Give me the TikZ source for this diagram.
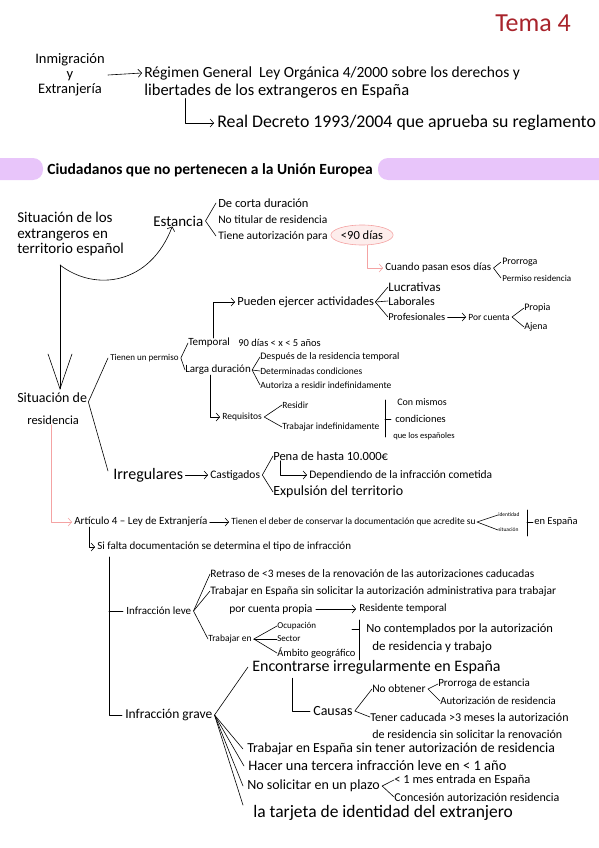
\documentclass[tikz,border=0pt]{standalone}
\usepackage{fontspec}
\setmainfont{Carlito}
\usetikzlibrary{arrows.meta,shapes.geometric}
\definecolor{temared}{HTML}{A8232B}
\definecolor{lavanda}{HTML}{E8C5FA}
\definecolor{rosa}{HTML}{F4A3A3}
\definecolor{rosafondo}{HTML}{FDEDEC}
\tikzset{%
  hw/.style={font=\fontsize{#1}{#1}\selectfont, inner sep=0pt, anchor=west},
  arr/.style={-{Straight Barb[length=3.5pt,width=8pt]}},
  parr/.style={arr, draw=rosa},
  bigarr/.style={-{Straight Barb[length=35pt,width=24pt]}},
}

\begin{document}
\begin{tikzpicture}[x=1pt, y=-1pt, line width=0.6pt, line cap=round, line join=round]
    \useasboundingbox (0,0) rectangle (599,848);

    % cabecera
    \node[hw=26, text=temared] (tema) at (495,23) {Tema 4};
    \node[font=\fontsize{14.5}{15}\selectfont, align=center, inner sep=0pt] (inmig) at (70,75) {Inmigración\\y\\Extranjería};
    \node[hw=15.5] (reg1) at (144,73) {Régimen General\ \ Ley Orgánica 4/2000 sobre los derechos y};
    \node[hw=16.5] (reg2) at (144,91) {libertades de los extrangeros en España};
    \node[hw=17.8] (decreto) at (217,123) {Real Decreto 1993/2004 que aprueba su reglamento};
    \draw[arr] ([xshift=3pt]inmig.east) -- ([xshift=-2pt]reg1.west);
    \draw[arr] ([xshift=41pt]reg2.south west) |- ([xshift=-3pt]decreto.west);

    % barra del titulo
    \fill[lavanda, rounded corners=10pt] (-20,158) rectangle (43,180);
    \fill[lavanda, rounded corners=10pt] (378,158) rectangle (620,180);
    \node[hw=15.5] (titulo) at (47,170) {\bfseries Ciudadanos que no pertenecen a la Unión Europea};

    % estancia
    \node[font=\fontsize{15}{15.5}\selectfont, align=left, inner sep=0pt, anchor=north west] (sit) at (17,212) {Situación de los\\extrangeros en\\territorio español};
    \node[hw=15] (estancia) at (153,221) {Estancia};
    \node[hw=12.5] (corta) at (218,203) {De corta duración};
    \node[hw=11.5] (titular) at (218,220) {No titular de residencia};
    \node[hw=11.5] (tiene) at (218,236) {Tiene autorización para};
    \node[ellipse, draw=rosa, fill=rosafondo, font=\fontsize{12.5}{12.5}\selectfont, inner sep=1pt,
          minimum width=51pt, minimum height=20pt] (dias) at (362,235) {<90 días};
    \draw ([xshift=-2pt]corta.west) -- ([xshift=2pt]estancia.east) -- ([xshift=-2pt]tiene.west);

    \node[hw=11] (cuando) at (385,268) {Cuando pasan esos días};
    \draw[parr] ([xshift=5pt]dias.south) |- ([xshift=-2pt]cuando.west);
    \node[hw=10] (prorroga) at (502,262) {Prorroga};
    \node[hw=9] (permiso) at (502,278) {Permiso residencia};
    \draw ([xshift=-1pt]prorroga.west) -- ([xshift=2pt]cuando.east) -- ([xshift=-1pt]permiso.west);

    % residencia
    \node[hw=14] (sitres) at (17,398) {Situación de};
    \node[hw=12.5] (resid) at (27,420) {residencia};
    \coordinate (c1) at (60,265);
    \draw[arr] (c1) .. controls (95,292) and (150,285) .. ([xshift=-6pt]estancia.south);
    \draw[bigarr] (c1) -- ([yshift=3pt]c1 |- sitres.north);

    \node[hw=12.5] (pueden) at (237,302) {Pueden ejercer actividades};
    \node[hw=13] (lucr) at (388,287) {Lucrativas};
    \node[hw=12] (labor) at (388,301) {Laborales};
    \node[hw=10.5] (prof) at (388,317) {Profesionales};
    \draw (lucr.west) -- ([xshift=1pt]pueden.east) -- (prof.west);
    \draw ([xshift=1pt]pueden.east) -- (labor.west);
    \node[hw=9.5] (porcuenta) at (468,317) {Por cuenta};
    \draw[arr] ([xshift=2pt]prof.east) -- ([xshift=-2pt]porcuenta.west);
    \node[hw=10] (propia) at (524,308) {Propia};
    \node[hw=10] (ajena) at (524,327) {Ajena};
    \draw (propia.west) -- ([xshift=2pt]porcuenta.east) -- (ajena.west);

    \node[hw=9] (tienen) at (110,358) {Tienen un permiso};
    \node[hw=11] (temporal) at (188,343) {Temporal};
    \node[hw=10.5] (rango) at (238,343) {90 días < x < 5 años};
    \node[hw=11] (larga) at (185,370) {Larga duración};
    \draw (temporal.west) -- ([xshift=2pt]tienen.east) -- (larga.west);
    \draw[arr] ([xshift=25pt]temporal.north west) |- ([xshift=-2pt]pueden.west);
    \node[hw=10] (despues) at (260,357) {Después de la residencia temporal};
    \node[hw=9.5] (determ) at (260,371) {Determinadas condiciones};
    \node[hw=9.5] (autoriza) at (260,385) {Autoriza a residir indefinidamente};
    \draw (despues.west) -- ([xshift=1pt]larga.east) -- (autoriza.west);
    \draw ([xshift=1pt]larga.east) -- (determ.west);

    \node[hw=9.5] (requisitos) at (222,417) {Requisitos};
    \draw[arr] ([xshift=25pt]larga.south west) |- ([xshift=-2pt]requisitos.west);
    \node[hw=9.5] (residir) at (282,405) {Residir};
    \node[hw=9.5] (trabind) at (282,427) {Trabajar indefinidamente};
    \draw (residir.west) -- ([xshift=2pt]requisitos.east) -- (trabind.west);
    \coordinate (b1) at (385,400);
    \coordinate (b2) at (385,437);
    \draw (b1) -- (b2);
    \node[hw=10] (conmis) at (397,402) {Con mismos};
    \node[hw=10.5] (cond) at (395,419) {condiciones};
    \node[hw=8.5] (queesp) at (393,436) {que los españoles};
    \draw (b1 |- cond.west) -- ([xshift=-4pt]cond.west);

    % irregulares
    \node[hw=16] (irreg) at (113,475) {Irregulares};
    \node[hw=11.5] (castig) at (210,475) {Castigados};
    \draw[arr] ([xshift=2pt]irreg.east) -- ([xshift=-2pt]castig.west);
    \draw ([xshift=-2pt]tienen.west) -- ([xshift=1pt,yshift=-4pt]sitres.east) -- ([xshift=-5pt,yshift=4pt]irreg.west);
    \node[hw=12.5] (pena) at (273,456) {Pena de hasta 10.000€};
    \node[hw=11.5] (depend) at (309,475) {Dependiendo de la infracción cometida};
    \node[hw=14] (expul) at (273,492) {Expulsión del territorio};
    \draw (pena.west) -- ([xshift=2pt]castig.east) -- (expul.west);
    \draw[arr] ([xshift=7pt]pena.south west) |- ([xshift=-2pt]depend.west);

    % articulo 4
    \node[hw=11] (artic) at (74,522) {Artículo 4 – Ley de Extranjería};
    \draw[parr] ([xshift=-2pt]resid.south) |- ([xshift=-2pt]artic.west);
    \node[hw=9.5] (deber) at (231,522) {Tienen el deber de conservar la documentación que acredite su};
    \draw[arr] ([xshift=2pt]artic.east) -- ([xshift=-2pt]deber.west);
    \node[hw=5.5] (identidad) at (498,515) {identidad};
    \node[hw=5.5] (situacion) at (498,530) {situación};
    \draw (identidad.west) -- ([xshift=1pt]deber.east) -- (situacion.west);
    \coordinate (b3) at (527,510);
    \coordinate (b4) at (527,536);
    \draw (b3) -- (b4);
    \node[hw=10.5] (espana) at (534,522) {en España};
    \draw (b3 |- espana.west) -- ([xshift=-1pt]espana.west);

    \node[hw=11] (sifalta) at (97,547) {Si falta documentación se determina el tipo de infracción};
    \draw[arr] ([xshift=15pt]artic.south west) |- ([xshift=-2pt]sifalta.west);
    \node[hw=11] (leve) at (126,611) {Infracción leve};
    \node[hw=13.5] (grave) at (125,715) {Infracción grave};
    \coordinate (t1) at ([xshift=12pt,yshift=-5pt]sifalta.south west);
    \draw (t1) |- ([xshift=-3pt]grave.west);
    \draw (t1 |- leve.west) -- ([xshift=-3pt]leve.west);

    % infraccion leve
    \node[hw=11.4] (retraso) at (210,574) {Retraso de <3 meses de la renovación de las autorizaciones caducadas};
    \node[hw=11.5] (trabsol) at (210,591) {Trabajar en España sin solicitar la autorización administrativa para trabajar};
    \node[hw=11.5] (cpropia) at (229,609) {por cuenta propia};
    \node[hw=11] (restemp) at (359,609) {Residente temporal};
    \draw[arr] ([xshift=3pt]cpropia.east) -- ([xshift=-3pt]restemp.west);
    \node[hw=9.5] (trabajen) at (208,639) {Trabajar en};
    \draw (retraso.west) -- ([xshift=2pt]leve.east) -- (trabajen.west);
    \draw ([xshift=2pt]leve.east) -- (trabsol.west);
    \node[hw=9] (ocup) at (277,626) {Ocupación};
    \node[hw=9] (sector) at (277,639) {Sector};
    \node[hw=10.5] (ambito) at (277,653) {Ámbito geográfico};
    \draw (ocup.west) -- ([xshift=2pt]trabajen.east) -- (ambito.west);
    \draw ([xshift=2pt]trabajen.east) -- (sector.west);
    \node[hw=12.5] (nocont) at (366,629) {No contemplados por la autorización};
    \node[hw=13] (deresi) at (372,647) {de residencia y trabajo};
    \coordinate (b5) at (359,620);
    \coordinate (b6) at (359,660);
    \draw (b5) -- (b6);
    \draw (b5 |- nocont.west) -- ++(-7,0);

    % infraccion grave
    \node[hw=16] (encontr) at (252,667) {Encontrarse irregularmente en España};
    \node[hw=14] (causas) at (313,711) {Causas};
    \draw ([xshift=40pt,yshift=-4pt]encontr.south west) |- ([xshift=-3pt]causas.west);
    \node[hw=11.5] (noobt) at (372,689) {No obtener};
    \node[hw=11] (prorr2) at (438,684) {Prorroga de estancia};
    \node[hw=10.8] (autres) at (440,701) {Autorización de residencia};
    \node[hw=12] (tener) at (370,717) {Tener caducada >3 meses la autorización};
    \node[hw=12] (deres) at (372,734) {de residencia sin solicitar la renovación};
    \draw (noobt.west) -- ([xshift=2pt]causas.east) -- (tener.west);
    \draw (prorr2.west) -- ([xshift=2pt]noobt.east) -- (autres.west);
    \node[hw=13.8] (trabsin) at (247,749) {Trabajar en España sin tener autorización de residencia};
    \node[hw=14.5] (hacer) at (248,766) {Hacer una tercera infracción leve en < 1 año};
    \node[hw=14] (nosol) at (247,786) {No solicitar en un plazo};
    \node[hw=12.5] (mes) at (394,780) {< 1 mes entrada en España};
    \node[hw=12] (conces) at (394,797) {Concesión autorización residencia};
    \node[hw=17.5] (tarjeta) at (253,813) {la tarjeta de identidad del extranjero};
    \draw (mes.west) -- ([xshift=2pt]nosol.east) -- (conces.west);
    \coordinate (g) at ([xshift=2pt]grave.east);
    \draw ([xshift=-4pt]encontr.west) -- (g) -- ([xshift=-4pt]trabsin.west);
    \draw (g) -- ([xshift=-4pt]hacer.west);
    \draw (g) -- ([xshift=-4pt]nosol.west);
    \draw (g) -- ([xshift=-10pt]tarjeta.north west);

\end{tikzpicture}
\end{document}
